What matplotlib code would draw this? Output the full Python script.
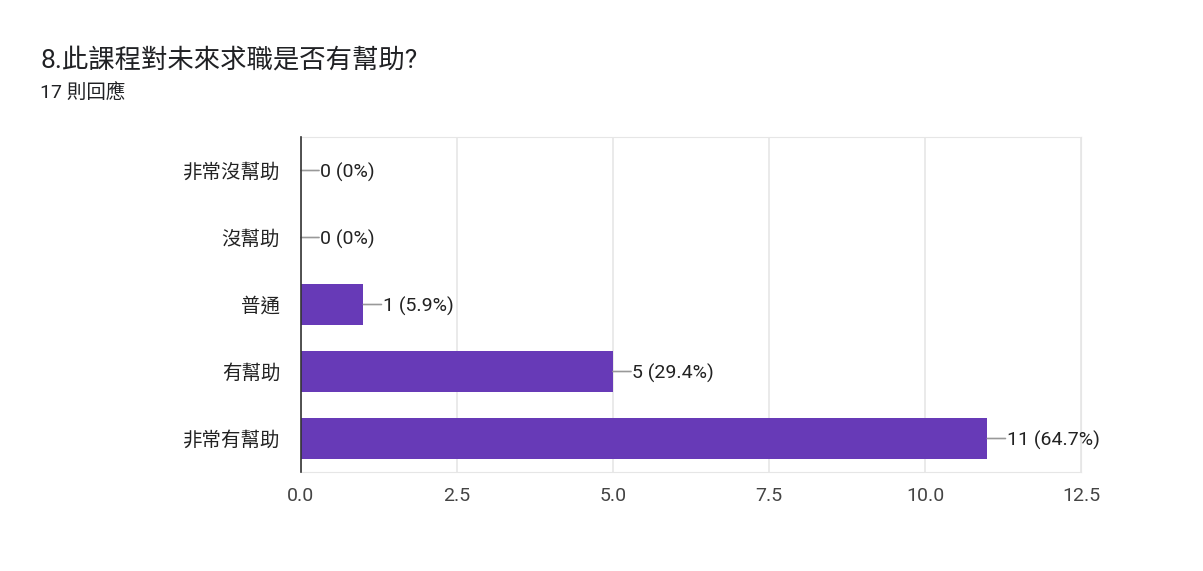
import matplotlib
matplotlib.use("Agg")
import matplotlib.pyplot as plt

plt.rcParams['font.family'] = ['Roboto', 'Noto Sans CJK TC', 'DejaVu Sans']

title = "8.此課程對未來求職是否有幫助?"
subtitle = "17 則回應"
categories = ["非常沒幫助", "沒幫助", "普通", "有幫助", "非常有幫助"]
counts = [0, 0, 1, 5, 11]
percents = ["0%", "0%", "5.9%", "29.4%", "64.7%"]
xticks = [0.0, 2.5, 5.0, 7.5, 10.0, 12.5]

fig = plt.figure(figsize=(12.03, 5.71), dpi=100)
W, H = 1203, 571
ax = fig.add_axes([301 / W, 1 - 472 / H, (1081 - 301) / W, (472 - 137) / H])

y = list(range(len(categories)))
ax.barh(y, counts, height=0.61, color="#673ab7", zorder=3)
ax.set_ylim(len(categories) - 0.5, -0.5)
ax.set_xlim(0, 12.5)
ax.set_xticks(xticks)
ax.set_xticklabels([f"{v:.1f}" for v in xticks])
ax.set_yticks(y)
ax.set_yticklabels(categories)
ax.tick_params(axis='x', length=0, labelsize=14, colors="#444444", pad=10.5)
ax.tick_params(axis='y', length=0, labelsize=14, colors="#222222", pad=15)
ax.grid(axis='x', color="#e6e6e6", linewidth=1.2, zorder=0)
for s in ["top", "right", "bottom"]:
    ax.spines[s].set_color("#e6e6e6")
ax.spines["left"].set_color("#333333")
ax.spines["left"].set_linewidth(1.2)
ax.spines["left"].set_zorder(4)

for yi, c, p in zip(y, counts, percents):
    ax.annotate("", xy=(c, yi), xytext=(13, 0), textcoords="offset points",
                xycoords="data",
                arrowprops=dict(arrowstyle="-", color="#999999", lw=1.2,
                                shrinkA=0, shrinkB=0))
    ax.annotate(f"{c} ({p})", xy=(c, yi), xytext=(14, 0), textcoords="offset points",
                va="center_baseline", ha="left", fontsize=14, color="#222222")

fig.text(40 / W, 1 - 60 / H, title, fontsize=19, color="#202124", va="center", ha="left")
fig.text(40 / W, 1 - 93 / H, subtitle, fontsize=14, color="#202124", va="center", ha="left")

fig.savefig("out.png", dpi=100, facecolor="white")
